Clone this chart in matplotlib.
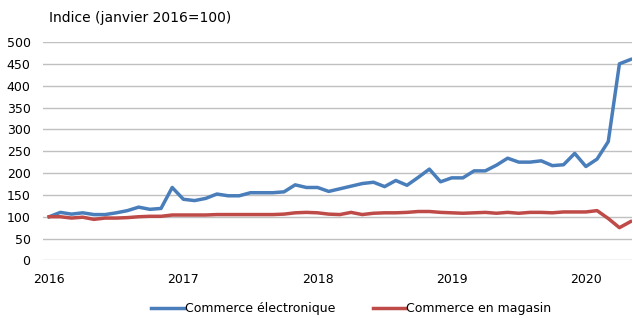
import numpy as np
import matplotlib.pyplot as plt

# monthly index, January 2016 = 100 (Jan 2016 .. May 2020)
ecommerce = [
    100, 110, 106, 109, 105, 105, 109, 114, 122, 117, 119, 167,
    140, 137, 142, 152, 148, 148, 155, 155, 155, 157, 173, 167,
    167, 158, 164, 170, 176, 179, 169, 183, 172, 190, 209, 180,
    189, 189, 205, 205, 218, 234, 225, 225, 228, 217, 219, 245,
    215, 232, 272, 450, 460,
]
magasin = [
    100, 100, 97, 99, 94, 97, 97, 98, 100, 101, 101, 104,
    104, 104, 104, 105, 105, 105, 105, 105, 105, 106, 109, 110,
    109, 106, 105, 110, 105, 108, 109, 109, 110, 112, 112, 110,
    109, 108, 109, 110, 108, 110, 108, 110, 110, 109, 111, 111,
    111, 114, 96, 75, 89,
]
year_labels = ["2016", "2017", "2018", "2019", "2020"]
series_names = ["Commerce électronique", "Commerce en magasin"]

months = np.arange(len(ecommerce))

fig = plt.figure(figsize=(6.33, 3.18), dpi=100)
ax = fig.add_axes([0.068, 0.181, 0.93, 0.687])

ax.plot(months, ecommerce, color="#4A7EBB", lw=2.5, label=series_names[0],
        solid_joinstyle="round")
ax.plot(months, magasin, color="#BE4B48", lw=2.5, label=series_names[1],
        solid_joinstyle="round")

ax.set_ylim(0, 500)
ax.set_xlim(-0.55, 52.1)
ax.set_yticks(np.arange(0, 501, 50))
ax.set_xticks(np.arange(0, len(ecommerce), 12))
ax.set_xticklabels(year_labels)
ax.tick_params(axis="both", length=0, labelsize=9, colors="#000000")
ax.tick_params(axis="y", pad=9)
ax.tick_params(axis="x", pad=9)
ax.grid(axis="y", color="#C0C0C0", lw=1)
ax.set_axisbelow(True)
for s in ax.spines.values():
    s.set_visible(False)

fig.text(0.077, 0.943, "Indice (janvier 2016=100)", fontsize=10, va="center")

fig.legend(loc="center", bbox_to_anchor=(0.555, 0.03), ncol=2, frameon=False,
           fontsize=9, handlelength=2.6, handletextpad=0.1, columnspacing=3)

fig.savefig("out.png", dpi=100)
